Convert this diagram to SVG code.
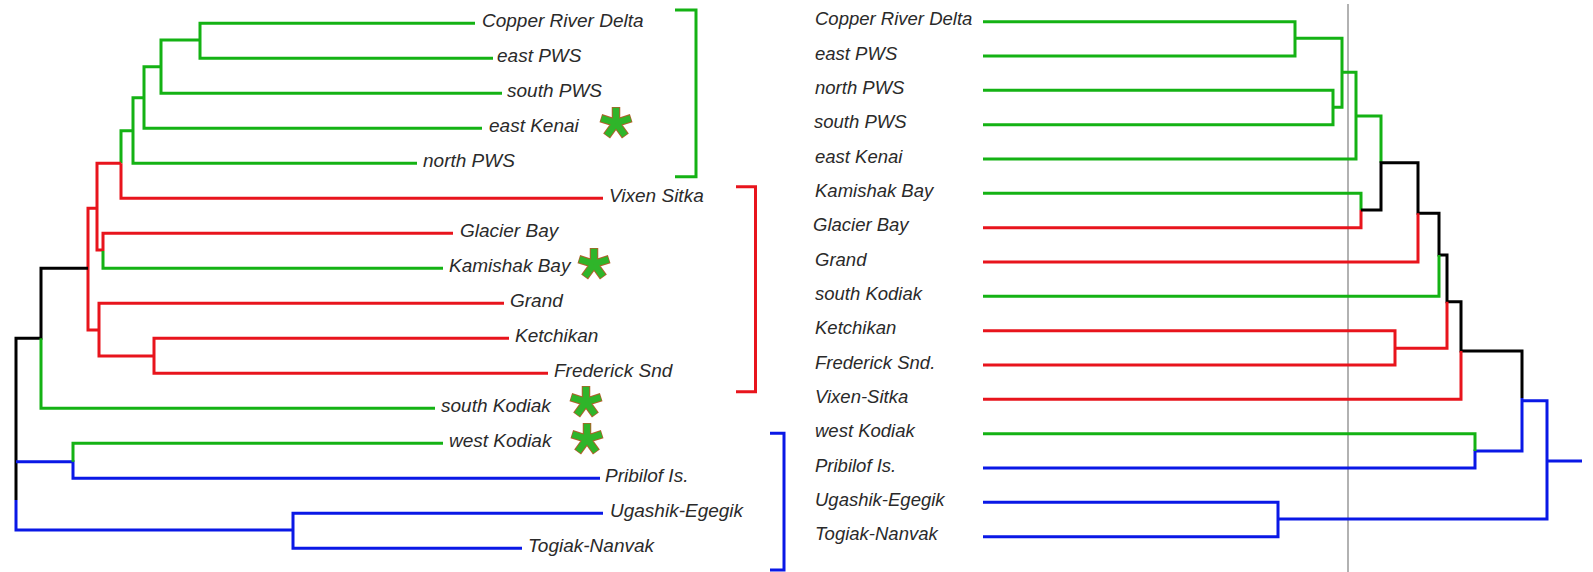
<svg xmlns="http://www.w3.org/2000/svg" width="1593" height="572" viewBox="0 0 1593 572">
<style>
.c path{fill:none;stroke-width:3;stroke-linejoin:miter;stroke-linecap:butt}
.g{stroke:#14b214}.r{stroke:#e8141c}.b{stroke:#0a18e6}.k{stroke:#000}
.t{font-family:"Liberation Sans",Arial,sans-serif;font-style:italic;fill:#2a2a2a}
.tl{font-size:19px}.tr{font-size:18.5px}
.ao{fill:none;stroke:#b0602a;stroke-width:8.5;stroke-linecap:butt}
.ai{fill:none;stroke:#2fb52a;stroke-width:6.5;stroke-linecap:butt}
</style>
<defs>
<g id="star">
<path class="ao" d="M0,0V-16M0,0L15.2,-4.9M0,0L9.4,12.9M0,0L-9.4,12.9M0,0L-15.2,-4.9"/>
<path class="ai" d="M0,0V-15.3M0,0L14.5,-4.7M0,0L9,12.4M0,0L-9,12.4M0,0L-14.5,-4.7"/>
</g>
</defs>
<rect width="1593" height="572" fill="#fff"/>
<g id="connectors" class="c">
<!-- left tree -->
<path class="g" d="M475,23.3H200V58.3H493"/>
<path class="g" d="M200,40H161V93.3H502"/>
<path class="g" d="M161,66.7H144V128.3H482"/>
<path class="g" d="M144,97.7H133V163.3H417"/>
<path class="g" d="M133,130.7H121V163.3"/>
<path class="r" d="M121,163.3V198.3H603"/>
<path class="r" d="M121,163.3H97V250H103"/>
<path class="r" d="M103,251V233.3H453"/>
<path class="g" d="M103,251V268.3H443"/>
<path class="r" d="M97,208.3H88V330H99"/>
<path class="r" d="M504,303.3H99V356H154"/>
<path class="r" d="M509,338.3H154V373.3H548"/>
<path class="k" d="M88,268.3H41V338.3H16V500"/>
<path class="g" d="M41,338.3V408.3H435"/>
<path class="b" d="M16,500V530H293"/>
<path class="b" d="M16,461.7H73V478.3H600"/>
<path class="g" d="M73,461.7V443.3H443"/>
<path class="b" d="M603,513.3H293V548.3H522"/>
<!-- brackets -->
<path class="g" d="M675,10H696V176.7H675"/>
<path class="r" d="M736,186.7H755.5V391.7H736"/>
<path class="b" d="M770,433.3H784V570H770"/>
<!-- right tree -->
<path d="M1348,4V572" style="stroke:#999;stroke-width:1.5"/>
<path class="g" d="M983,21.7H1295V56H983"/>
<path class="g" d="M1295,38.3H1342V107.3H1333"/>
<path class="g" d="M983,90.3H1333V124.7H983"/>
<path class="g" d="M1342,72.3H1356V159H983"/>
<path class="g" d="M1356,116H1381V162.7"/>
<path class="g" d="M983,193.3H1361V210"/>
<path class="r" d="M1361,210V227.7H983"/>
<path class="k" d="M1361,210H1381V162.7H1418V213.3H1439V255H1447V301.7H1461V351H1522V398"/>
<path class="r" d="M1418,213.3V262H983"/>
<path class="g" d="M1439,255V296.3H983"/>
<path class="r" d="M1447,301.7V348.3H1395"/>
<path class="r" d="M983,330.7H1395V365H983"/>
<path class="r" d="M1461,351V399.3H983"/>
<path class="b" d="M1522,398V451H1475V468H983"/>
<path class="g" d="M1475,451V433.7H983"/>
<path class="b" d="M1522,400.7H1547V519H1278"/>
<path class="b" d="M983,502.3H1278V536.7H983"/>
<path class="b" d="M1547,461H1582"/>
</g>
<g id="left-labels" class="t tl">
<text id="L-copper" x="482" y="27">Copper River Delta</text>
<text id="L-eastpws" x="497" y="62">east PWS</text>
<text id="L-southpws" x="507" y="97">south PWS</text>
<text id="L-eastkenai" x="489" y="132">east Kenai</text>
<text id="L-northpws" x="423" y="167">north PWS</text>
<text id="L-vixen" x="609" y="202">Vixen Sitka</text>
<text id="L-glacier" x="460" y="237">Glacier Bay</text>
<text id="L-kamishak" x="449" y="272">Kamishak Bay</text>
<text id="L-grand" x="510" y="307">Grand</text>
<text id="L-ketchikan" x="515" y="342">Ketchikan</text>
<text id="L-frederick" x="554" y="377">Frederick Snd</text>
<text id="L-southkodiak" x="441" y="412">south Kodiak</text>
<text id="L-westkodiak" x="449" y="447">west Kodiak</text>
<text id="L-pribilof" x="605" y="482">Pribilof Is.</text>
<text id="L-ugashik" x="610" y="517">Ugashik-Egegik</text>
<text id="L-togiak" x="528" y="552">Togiak-Nanvak</text>
</g>
<g id="asterisks">
<use href="#star" x="616" y="123"/>
<use href="#star" x="594" y="264"/>
<use href="#star" x="586" y="402"/>
<use href="#star" x="587" y="439"/>
</g>
<g id="right-labels" class="t tr">
<text x="815" y="25">Copper River Delta</text>
<text x="815" y="59.5">east PWS</text>
<text x="815" y="94">north PWS</text>
<text x="814" y="128">south PWS</text>
<text x="815" y="162.5">east Kenai</text>
<text x="815" y="197">Kamishak Bay</text>
<text x="813" y="231">Glacier Bay</text>
<text x="815" y="265.5">Grand</text>
<text x="815" y="300">south Kodiak</text>
<text x="815" y="334">Ketchikan</text>
<text x="815" y="368.5">Frederick Snd.</text>
<text x="815" y="403">Vixen-Sitka</text>
<text x="815" y="437">west Kodiak</text>
<text x="815" y="471.5">Pribilof Is.</text>
<text x="815" y="506">Ugashik-Egegik</text>
<text x="815" y="540">Togiak-Nanvak</text>
</g>
</svg>
